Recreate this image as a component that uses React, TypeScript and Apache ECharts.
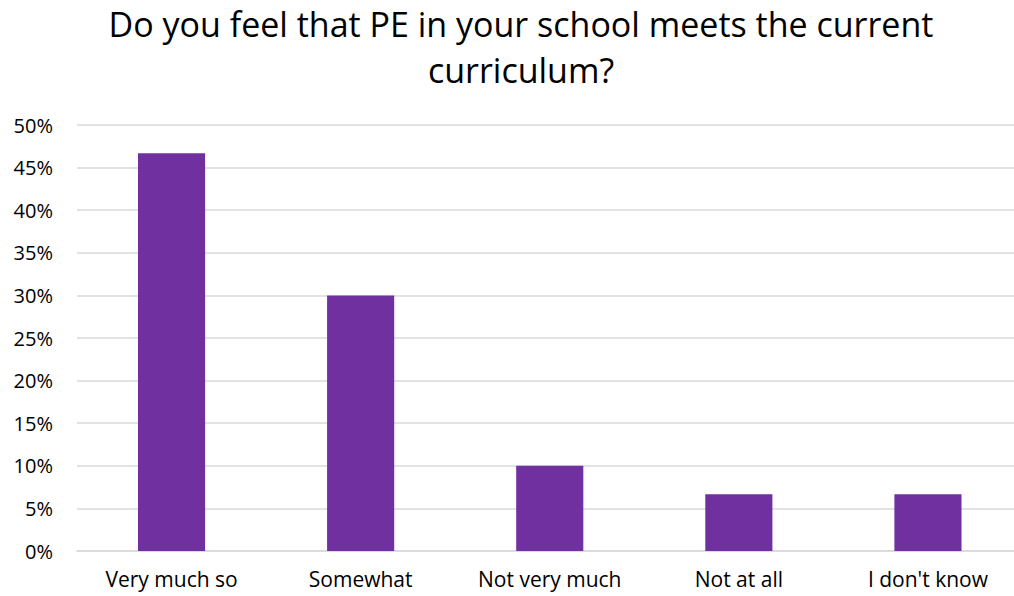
import React, { useEffect, useRef } from "react";
import * as echarts from "echarts";

const categories = ["Very much so", "Somewhat", "Not very much", "Not at all", "I don't know"];
const values = [46.67, 30, 10, 6.67, 6.67];
const titleText = "Do you feel that PE in your school meets the current\ncurriculum?";

export default function App() {
  const ref = useRef<HTMLDivElement>(null);
  useEffect(() => {
    if (!ref.current) return;
    const chart = echarts.init(ref.current, undefined, { renderer: "svg" });
    chart.setOption({
      animation: false,
      backgroundColor: "#ffffff",
      textStyle: { fontFamily: "Open Sans" },
      title: {
        text: titleText,
        left: 516,
        top: -4,
        textAlign: "center",
        textStyle: { fontFamily: "Open Sans", fontSize: 34, fontWeight: "normal", color: "#000000", lineHeight: 46 },
      },
      grid: { left: 77, width: 945.5, top: 125, bottom: 45, containLabel: false, outerBoundsMode: "none" },
      xAxis: {
        type: "category",
        data: categories,
        axisLine: { show: true, lineStyle: { color: "#D9D9D9", width: 1.5 } },
        axisTick: { show: false },
        axisLabel: { color: "#000000", fontSize: 21, margin: 17, fontFamily: "Open Sans" },
      },
      yAxis: {
        type: "value",
        min: 0,
        max: 50,
        interval: 5,
        axisLine: { show: false },
        axisTick: { show: false },
        splitLine: { lineStyle: { color: "#D9D9D9", width: 1.5 } },
        axisLabel: { color: "#000000", fontSize: 20, margin: 24, formatter: "{value}%", fontFamily: "Open Sans" },
      },
      series: [
        {
          type: "bar",
          data: values,
          barWidth: "35.5%",
          itemStyle: { color: "#7030A0" },
        },
      ],
    });
    return () => chart.dispose();
  }, []);
  return <div ref={ref} style={{ position: "absolute", left: 0, top: 0, width: 1014, height: 596, overflow: "hidden" }} />;
}
